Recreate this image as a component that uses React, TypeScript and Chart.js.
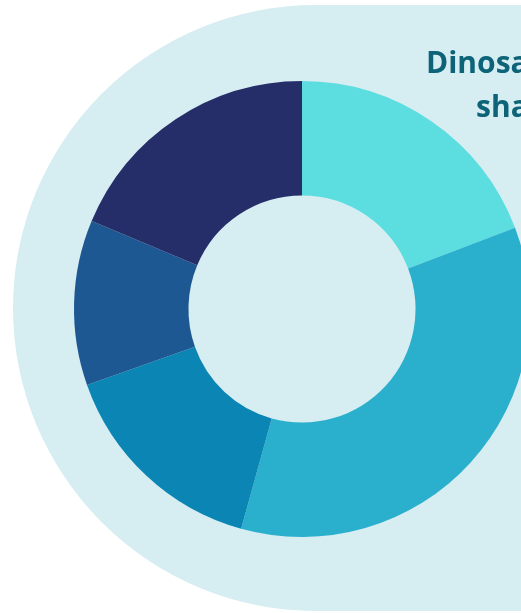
import React, { useEffect, useRef } from "react";
import { Chart, registerables } from "chart.js";

Chart.register(...registerables);

const labels = ["Theropods", "Sauropods", "Ornithopods", "Ceratopsians", "Ankylosaurs"];
const values = [19.2, 35.1, 15.3, 11.7, 18.7];
const colors = ["#5CDDE0", "#2AAFCC", "#0A85B4", "#1D5893", "#262E6A"];
const titleLines = ["Dinosaur diet", "share"];

export default function App() {
  const ref = useRef<HTMLCanvasElement | null>(null);

  useEffect(() => {
    if (!ref.current) return;
    const chart = new Chart(ref.current, {
      type: "doughnut",
      data: {
        labels,
        datasets: [
          {
            data: values,
            backgroundColor: colors,
            borderWidth: 0,
          },
        ],
      },
      options: {
        responsive: false,
        animation: false,
        radius: 228,
        cutout: "49.8%",
        layout: { padding: 0 },
        plugins: {
          legend: { display: false },
          tooltip: { enabled: false },
          title: { display: false },
        },
      },
    });
    return () => chart.destroy();
  }, []);

  return (
    <div style={{ position: "fixed", inset: 0, overflow: "hidden", background: "#ffffff" }}>
      <div
        style={{
          position: "absolute",
          left: 13,
          top: 5,
          width: 1000,
          height: 606,
          borderRadius: "303px 0 0 303px",
          background: "#D6EDF1",
        }}
      />
      <div style={{ position: "absolute", left: 72, top: 79, width: 460, height: 460 }}>
        <canvas ref={ref} width={460} height={460} style={{ display: "block" }} />
      </div>
      <div
        style={{
          position: "absolute",
          left: 426,
          top: 40,
          fontFamily: "'Open Sans', sans-serif",
          fontWeight: 700,
          fontSize: 30,
          lineHeight: "44px",
          color: "#0D6478",
          whiteSpace: "nowrap",
        }}
      >
        <div>{titleLines[0]}</div>
        <div style={{ marginLeft: 50 }}>{titleLines[1]}</div>
      </div>
    </div>
  );
}
